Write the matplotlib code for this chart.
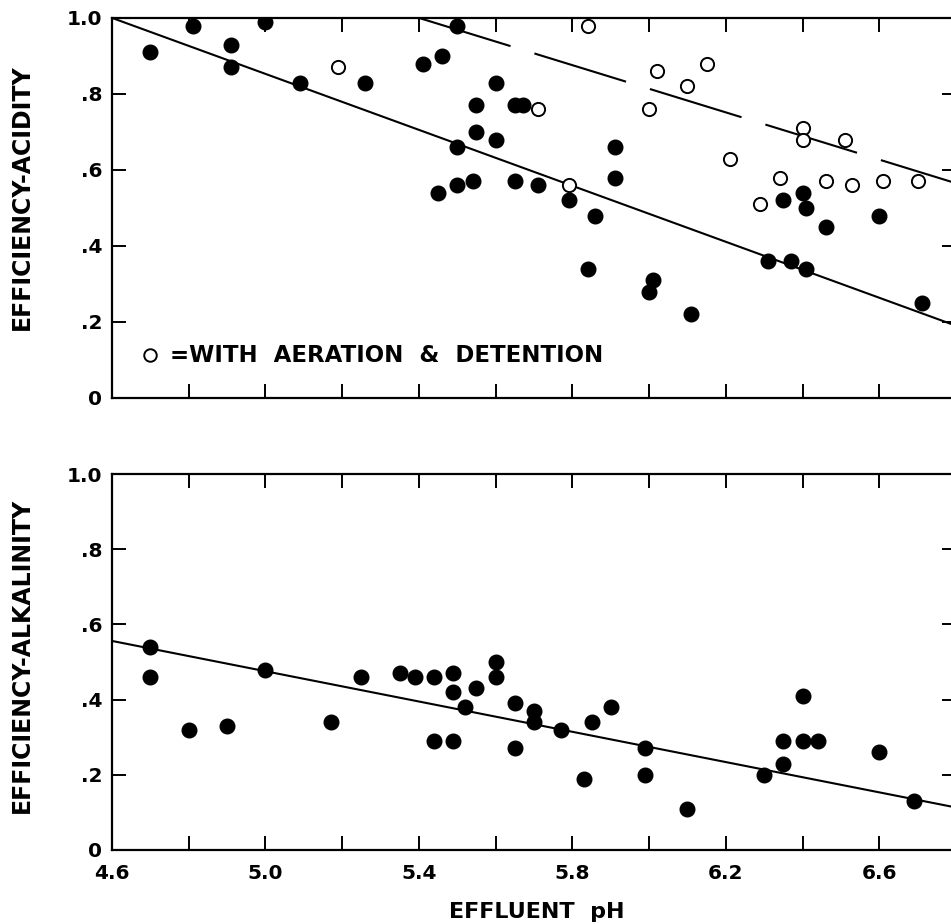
# Efficiency vs effluent pH, acidity (top) and alkalinity (bottom)

import numpy as np
import matplotlib
matplotlib.use("Agg")
import matplotlib.pyplot as plt

# X axis ticks and labels
x_ticks = [4.6, 4.8, 5.0, 5.2, 5.4, 5.6, 5.8, 6.0, 6.2, 6.4, 6.6, 6.8]
x_tick_labels = ["4.6", "", "5.0", "", "5.4", "", "5.8", "", "6.2", "", "6.6", ""]
y_ticks = [0, 0.2, 0.4, 0.6, 0.8, 1.0]
y_tick_labels = ["0", ".2", ".4", ".6", ".8", "1.0"]

# Acidity, without aeration (filled dots)
acid_fill_x = [4.70, 4.81, 5.00, 4.91, 4.91, 5.09, 5.26, 5.41, 5.46, 5.50,
               5.60, 5.55, 5.65, 5.67, 5.55, 5.60, 5.50, 5.45, 5.50, 5.54,
               5.65, 5.71, 5.91, 5.91, 5.79, 5.86, 5.84, 6.01, 6.00, 6.11,
               6.35, 6.40, 6.41, 6.46, 6.60, 6.31, 6.37, 6.41, 6.71]
acid_fill_y = [0.91, 0.98, 0.99, 0.93, 0.87, 0.83, 0.83, 0.88, 0.90, 0.98,
               0.83, 0.77, 0.77, 0.77, 0.70, 0.68, 0.66, 0.54, 0.56, 0.57,
               0.57, 0.56, 0.66, 0.58, 0.52, 0.48, 0.34, 0.31, 0.28, 0.22,
               0.52, 0.54, 0.50, 0.45, 0.48, 0.36, 0.36, 0.34, 0.25]

# Acidity, with aeration & detention (open circles)
acid_open_x = [5.19, 5.71, 5.84, 6.02, 6.10, 6.15, 6.00, 5.79, 6.21,
               6.40, 6.40, 6.51, 6.34, 6.29, 6.46, 6.53, 6.61, 6.70]
acid_open_y = [0.87, 0.76, 0.98, 0.86, 0.82, 0.88, 0.76, 0.56, 0.63,
               0.71, 0.68, 0.68, 0.58, 0.51, 0.57, 0.56, 0.57, 0.57]

# Alkalinity
alk_x = [4.70, 4.70, 4.80, 4.90, 5.00, 5.17, 5.25, 5.35, 5.39, 5.44,
         5.49, 5.49, 5.44, 5.49, 5.55, 5.52, 5.60, 5.60, 5.65, 5.65,
         5.70, 5.70, 5.77, 5.85, 5.90, 5.83, 5.99, 5.99, 6.10, 6.30,
         6.35, 6.35, 6.40, 6.40, 6.44, 6.60, 6.69]
alk_y = [0.54, 0.46, 0.32, 0.33, 0.48, 0.34, 0.46, 0.47, 0.46, 0.46,
         0.47, 0.42, 0.29, 0.29, 0.43, 0.38, 0.50, 0.46, 0.39, 0.27,
         0.37, 0.34, 0.32, 0.34, 0.38, 0.19, 0.27, 0.20, 0.11, 0.20,
         0.29, 0.23, 0.29, 0.41, 0.29, 0.26, 0.13]

# Fitted lines (end points)
acid_fit_x = [4.6, 6.8]
acid_fit_y = [1.0, 0.19]
aer_fit_x = [5.4, 6.8]
aer_fit_y = [1.0, 0.565]
alk_fit_x = [4.6, 6.8]
alk_fit_y = [0.556, 0.113]

FONT = "DejaVu Sans"


# Common axis styling
def style_axis(ax, show_xlabels):
    ax.set_xlim(4.6, 6.8)
    ax.set_ylim(0, 1.0)
    ax.set_xticks(x_ticks)
    ax.set_yticks(y_ticks)
    ax.set_yticklabels(y_tick_labels)
    if show_xlabels:
        ax.set_xticklabels(x_tick_labels)
    else:
        ax.set_xticklabels([])
    ax.tick_params(axis="both", direction="in", length=10, width=1.4,
                   top=True, right=True, labelsize=14.5)
    ax.tick_params(axis="y", pad=7)
    ax.tick_params(axis="x", pad=10)
    for lab in ax.get_xticklabels() + ax.get_yticklabels():
        lab.set_fontweight("bold")
        lab.set_family(FONT)
    for sp in ax.spines.values():
        sp.set_linewidth(1.6)


def main():
    fig = plt.figure(figsize=(9.51, 9.24), dpi=100)
    ax1 = fig.add_axes([0.1178, 0.5693, 0.8875, 0.4113])
    ax2 = fig.add_axes([0.1178, 0.0801, 0.8875, 0.4069])

    # Top panel - acidity
    ax1.plot(acid_fit_x, acid_fit_y, color="black", lw=1.5)
    ax1.plot(aer_fit_x, aer_fit_y, color="black", lw=1.5, dashes=(46, 12))
    ax1.plot(acid_fill_x, acid_fill_y, "o", color="black", ms=10.5)
    ax1.plot(acid_open_x, acid_open_y, "o", mfc="white", mec="black",
             ms=9.5, mew=1.4)
    ax1.plot([0.045], [0.113], "o", mfc="white", mec="black", ms=9, mew=1.4,
             transform=ax1.transAxes)
    ax1.text(0.0687, 0.113, "=WITH  AERATION  &  DETENTION", transform=ax1.transAxes,
             ha="left", va="center", fontsize=16.5, fontweight="bold", family=FONT)
    style_axis(ax1, False)

    # Bottom panel - alkalinity
    ax2.plot(alk_fit_x, alk_fit_y, color="black", lw=1.5)
    ax2.plot(alk_x, alk_y, "o", color="black", ms=10.5)
    style_axis(ax2, True)

    # Axis titles
    fig.text(22 / 951, 1 - 197 / 924, "EFFICIENCY-ACIDITY", rotation=90,
             ha="center", va="center", fontsize=17, fontweight="bold", family=FONT)
    fig.text(22 / 951, 1 - 655 / 924, "EFFICIENCY-ALKALINITY", rotation=90,
             ha="center", va="center", fontsize=17, fontweight="bold", family=FONT)
    fig.text(537 / 951, 1 - 912 / 924, "EFFLUENT  pH", ha="center", va="center",
             fontsize=16, fontweight="bold", family=FONT)

    fig.savefig("out.png", dpi=100)


if __name__ == "__main__":
    main()
